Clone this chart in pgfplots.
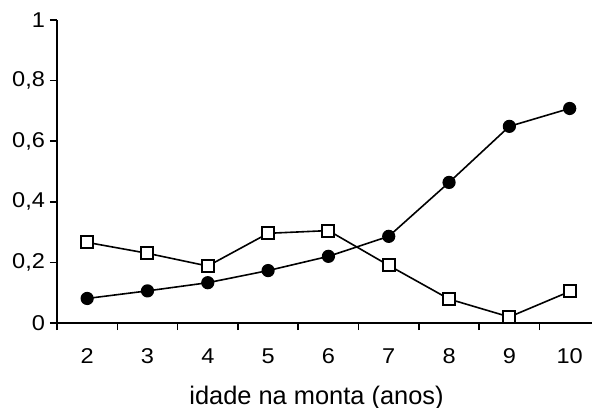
\documentclass[border=0pt]{standalone}
\usepackage{pgfplots}
\pgfplotsset{compat=1.18}
\usepackage{fontspec}
\setmainfont{Liberation Sans}
\begin{document}
\begin{tikzpicture}
\useasboundingbox (-57bp,-85bp) rectangle (535bp,323bp);
\begin{axis}[
  at={(0,0)}, anchor=south west,
  scale only axis, width=535bp, height=303bp,
  xmin=1.5, xmax=10.37, ymin=0, ymax=1,
  axis x line*=bottom, axis y line*=left,
  axis line style={line width=1.8bp, black},
  tick align=outside, major tick length=7bp,
  tick style={line width=1.6bp, black},
  xtick={1.5,2.5,...,9.5},
  xticklabel={\scalebox{1.1}[1]{\pgfmathparse{int(\tick+0.6)}\pgfmathresult}},
  x tick label style={xshift=30.2bp, yshift=-15bp},
  ytick={0,0.2,0.4,0.6,0.8,1},
  yticklabel={\scalebox{1.1}[1]{\pgfmathprintnumber[use comma,fixed]{\tick}}},
  y tick label style={xshift=-1.5bp},
  /pgf/number format/assume math mode=true,
  ticklabel style={font=\fontsize{21.5}{21.5}\selectfont},
  xlabel={idade na monta (anos)},
  xlabel style={font=\fontsize{25.5}{25.5}\selectfont, at={(axis description cs:0.5,0)}, anchor=base, yshift=-81bp, xshift=-8bp},
  clip=false,
]
\addplot[black, line width=1.6bp, mark=*, mark size=5.8bp] coordinates {
(2,0.081) (3,0.106) (4,0.133) (5,0.173) (6,0.220) (7,0.286) (8,0.464) (9,0.649) (10,0.708)};
\addplot[black, line width=1.6bp, mark=square*, mark size=6bp, mark options={fill=white, line width=2bp}] coordinates {
(2,0.266) (3,0.230) (4,0.188) (5,0.296) (6,0.305) (7,0.190) (8,0.079) (9,0.020) (10,0.104)};
\end{axis}
\end{tikzpicture}
\end{document}
